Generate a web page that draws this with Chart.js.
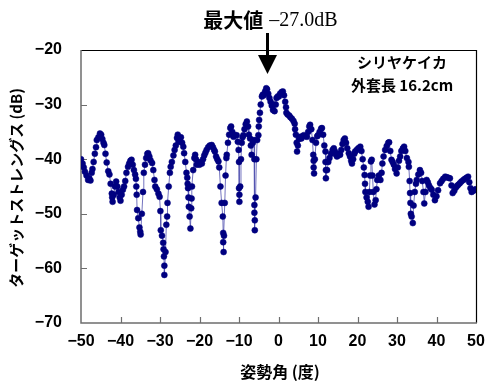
<!DOCTYPE html>
<html>
<head>
<meta charset="utf-8">
<script src="https://cdn.jsdelivr.net/npm/chart.js@4/dist/chart.umd.min.js"></script>
<style>
html,body{margin:0;padding:0;background:#fff;}
#wrap{width:486px;height:385px;position:relative;}
</style>
</head>
<body>
<div id="wrap"><canvas id="c" width="486" height="385"></canvas></div>
<script>
// 姿勢角 (deg)
const angles = [
-50.0,-49.6,-49.3,-49.0,-48.6,-48.2,-47.9,-47.6,-47.3,-47.1,-46.8,-46.5,-46.2,-46.0,-45.6,-45.2,-44.9,-44.6,-44.3,-44.1,
-43.8,-43.5,-43.1,-42.8,-42.5,-42.2,-42.1,-42.0,-41.7,-41.4,-41.1,-40.8,-40.5,-40.2,-40.0,-39.7,-39.4,-39.1,-38.8,-38.5,
-38.1,-37.8,-37.5,-37.2,-36.9,-36.6,-36.3,-36.1,-36.0,-35.9,-35.8,-35.5,-35.2,-35.0,-34.9,-34.6,-34.3,-34.1,-33.8,-33.5,
-33.2,-33.0,-32.7,-32.4,-32.0,-31.7,-31.4,-31.2,-30.8,-30.4,-30.1,-29.9,-29.8,-29.5,-29.2,-29.1,-29.0,-28.9,-28.9,-28.6,
-28.4,-28.2,-28.1,-27.8,-27.5,-27.3,-27.0,-26.6,-26.3,-26.0,-25.7,-25.5,-25.3,-25.0,-24.7,-24.4,-24.1,-23.9,-23.6,-23.3,
-23.1,-23.0,-22.9,-22.8,-22.7,-22.5,-22.3,-22.1,-22.0,-21.9,-21.6,-21.3,-21.1,-20.9,-20.7,-20.4,-20.0,-19.7,-19.4,-19.1,
-18.8,-18.5,-18.2,-17.8,-17.4,-16.9,-16.6,-16.3,-16.1,-15.8,-15.5,-15.2,-15.0,-14.7,-14.4,-14.1,-14.0,-14.0,-13.9,-13.8,
-13.6,-13.4,-13.2,-13.1,-12.8,-12.5,-12.2,-12.0,-11.7,-11.4,-11.0,-10.6,-10.3,-10.1,-10.0,-10.0,-9.9,-9.9,-9.7,-9.5,
-9.3,-9.1,-8.9,-8.6,-8.3,-8.0,-7.7,-7.5,-7.2,-7.0,-6.8,-6.5,-6.2,-6.1,-6.1,-6.1,-6.0,-6.0,-5.8,-5.6,
-5.4,-5.1,-5.0,-4.9,-4.7,-4.5,-4.2,-4.0,-3.7,-3.4,-3.1,-2.9,-2.6,-2.3,-2.0,-1.7,-1.4,-1.2,-1.0,-0.7,
-0.5,-0.2,0.1,0.4,0.8,1.1,1.4,1.7,1.9,2.0,2.3,2.7,3.0,3.4,3.8,4.1,4.2,4.4,4.6,4.7,
4.9,5.2,5.5,5.8,6.1,6.4,6.8,7.2,7.5,7.8,8.0,8.3,8.6,8.8,8.9,8.9,9.0,9.2,9.5,9.8,
10.0,10.4,10.8,11.0,11.3,11.6,11.9,11.9,12.0,12.0,12.3,12.6,12.9,13.3,13.7,14.0,14.3,14.6,14.8,15.1,
15.4,15.6,15.9,16.2,16.5,16.8,17.1,17.4,17.8,18.1,18.4,18.6,18.9,19.2,19.4,19.8,20.2,20.7,21.0,21.3,
21.6,21.8,21.9,22.0,22.3,22.6,22.8,23.0,23.2,23.4,23.6,23.8,24.0,24.3,24.6,24.8,25.0,25.4,25.8,26.1,
26.3,26.6,27.0,27.4,27.8,28.0,28.3,28.6,28.9,29.2,29.5,29.9,30.2,30.5,30.8,31.1,31.5,31.8,32.1,32.5,
32.9,33.0,33.2,33.3,33.4,33.5,33.7,34.0,34.2,34.5,34.8,35.0,35.4,35.8,36.1,36.4,36.7,36.9,37.2,37.5,
37.8,38.1,38.5,38.8,39.2,39.6,40.0,40.4,40.9,41.3,41.7,42.2,42.6,43.0,43.4,43.8,44.1,44.5,44.9,45.2,
45.5,45.9,46.3,46.8,47.2,47.6,48.0,48.3,48.6,48.9,49.3,49.7,50.0
];
// ターゲットストレングス (dB)
const targetStrength = [
-40.0,-40.8,-41.5,-42.3,-43.0,-43.8,-43.5,-43.9,-42.5,-41.8,-40.5,-39.0,-37.8,-36.5,-36.0,-35.3,-35.5,-36.3,-37.0,-37.4,
-39.0,-40.6,-42.2,-42.8,-44.5,-46.3,-47.0,-47.8,-46.5,-45.0,-44.1,-45.0,-46.0,-47.0,-47.6,-46.5,-45.6,-45.0,-44.0,-42.5,
-41.4,-40.8,-40.3,-40.1,-41.0,-42.0,-42.8,-43.6,-45.0,-46.5,-49.3,-50.8,-52.5,-53.3,-53.8,-50.0,-46.0,-42.5,-41.0,-39.8,
-39.0,-38.9,-39.5,-40.2,-40.7,-42.0,-43.8,-45.0,-45.5,-46.3,-46.9,-49.5,-53.0,-54.0,-55.3,-56.5,-57.8,-59.5,-61.2,-57.0,
-52.0,-50.5,-48.0,-45.0,-42.5,-41.4,-40.5,-39.3,-38.3,-37.5,-36.1,-35.5,-36.8,-36.2,-36.0,-37.0,-37.7,-38.9,-40.5,-42.5,
-43.4,-44.5,-45.3,-47.0,-48.7,-50.5,-52.7,-49.0,-47.2,-45.0,-42.0,-39.8,-39.2,-40.0,-41.0,-40.5,-41.0,-40.6,-40.8,-40.0,
-39.3,-38.8,-38.3,-37.8,-37.5,-37.4,-37.8,-38.3,-38.6,-39.5,-40.0,-40.4,-41.5,-45.0,-48.0,-50.5,-53.5,-55.2,-57.0,-54.0,
-48.0,-43.0,-39.8,-39.2,-37.0,-35.5,-34.3,-34.0,-35.0,-35.9,-35.6,-35.6,-36.8,-38.3,-40.5,-45.3,-46.5,-47.8,-45.0,-40.0,
-37.0,-36.0,-35.6,-34.5,-33.6,-33.1,-34.0,-35.5,-36.2,-37.5,-39.2,-37.0,-36.5,-40.0,-48.4,-49.8,-51.2,-53.0,-47.0,-40.0,
-36.5,-35.6,-34.0,-32.8,-31.5,-30.0,-28.5,-28.2,-28.3,-27.6,-27.0,-27.2,-28.0,-28.8,-29.5,-30.2,-31.0,-30.0,-31.2,-30.0,
-28.8,-28.5,-28.5,-28.0,-27.7,-27.6,-28.3,-29.5,-30.5,-31.5,-31.8,-32.0,-32.3,-32.6,-33.0,-33.5,-34.5,-35.5,-37.0,-38.6,
-37.5,-36.3,-35.9,-36.2,-35.8,-35.6,-35.8,-35.9,-35.0,-34.0,-33.7,-34.5,-36.5,-39.2,-40.3,-41.5,-42.6,-40.0,-37.0,-35.8,
-35.6,-35.0,-34.4,-34.3,-35.5,-37.5,-38.6,-40.5,-42.0,-43.5,-42.0,-40.5,-39.8,-39.0,-38.3,-38.0,-38.6,-39.2,-39.5,-39.3,
-39.0,-39.2,-38.3,-37.2,-36.5,-36.2,-37.0,-38.0,-38.9,-39.5,-40.3,-40.8,-40.0,-39.0,-38.6,-38.3,-38.0,-37.7,-38.5,-40.0,
-41.5,-42.9,-44.5,-46.0,-47.0,-47.8,-48.7,-46.0,-43.0,-40.4,-40.1,-43.0,-46.0,-48.3,-47.5,-45.5,-43.8,-43.0,-43.8,-42.5,
-40.8,-39.5,-38.3,-37.6,-37.0,-36.9,-38.5,-40.1,-40.5,-41.0,-41.8,-42.6,-41.5,-40.3,-39.5,-38.5,-38.0,-37.7,-38.5,-39.8,
-40.5,-41.4,-44.0,-46.2,-48.0,-50.0,-50.5,-51.7,-48.5,-46.0,-44.5,-43.8,-42.8,-42.0,-42.5,-44.0,-46.0,-48.1,-46.0,-43.8,
-44.2,-44.8,-45.3,-45.6,-46.5,-47.5,-46.8,-45.7,-44.4,-44.0,-43.6,-43.2,-43.3,-43.4,-43.5,-44.8,-46.2,-45.8,-45.2,-44.9,
-44.7,-44.4,-44.1,-43.8,-43.6,-43.4,-43.2,-44.2,-45.3,-46.0,-45.8,-45.6,-45.5
];
const xTicks = [-50,-40,-30,-20,-10,0,10,20,30,40,50];
const yTicks = [-70,-60,-50,-40,-30,-20];
const titleJa = '最大値';
const titleVal = '\u201327.0dB';
const peakAngle = -2.8;
const noteLines = ['シリヤケイカ','外套長 16.2cm'];
const xTitle = '姿勢角 (度)';
const yTitle = 'ターゲットストレングス (dB)';

const pts = angles.map((a,i)=>({x:a,y:targetStrength[i]}));
const numFont = '"Liberation Sans", Arial, sans-serif';
const jaFont = '"Noto Sans CJK JP", "Liberation Sans", sans-serif';
const fmt = v => (v<0 ? '\u2212'+Math.abs(v) : String(v));

const deco = {
  id:'deco',
  beforeDatasetsDraw(chart){
    const {ctx, chartArea:a, scales:{x,y}} = chart;
    ctx.save();
    ctx.strokeStyle='#000'; ctx.lineWidth=1.2;
    ctx.beginPath();
    ctx.moveTo(a.left, a.top+0.5); ctx.lineTo(a.right+0.5, a.top+0.5); ctx.lineTo(a.right+0.5, a.bottom);
    ctx.stroke();
    ctx.strokeStyle='#6e6e6e'; ctx.lineWidth=1.5;
    ctx.beginPath();
    ctx.moveTo(a.left, a.top); ctx.lineTo(a.left, a.bottom); ctx.lineTo(a.right+1, a.bottom);
    ctx.stroke();
    ctx.lineWidth=1.2;
    ctx.beginPath();
    xTicks.forEach(t=>{ if(t>-50&&t<50){const px=Math.round(x.getPixelForValue(t))+0.5; ctx.moveTo(px,a.bottom); ctx.lineTo(px,a.bottom-6);} });
    yTicks.forEach(t=>{ if(t>-70&&t<-20){const py=Math.round(y.getPixelForValue(t))+0.5; ctx.moveTo(a.left,py); ctx.lineTo(a.left+6,py);} });
    ctx.stroke();
    ctx.restore();
  },
  afterDraw(chart){
    const {ctx, scales:{x}} = chart;
    ctx.save();
    ctx.fillStyle='#000';
    ctx.textBaseline='middle';
    ctx.font='bold 20px '+jaFont;
    const w1=ctx.measureText(titleJa).width;
    ctx.font='20px "Liberation Serif", "Times New Roman", serif';
    const w2=ctx.measureText(titleVal).width;
    const gap=6;
    const total=w1+gap+w2;
    const cx=x.getPixelForValue(peakAngle)+3;
    let sx=cx-total/2;
    ctx.textAlign='left';
    ctx.font='bold 20px '+jaFont;
    ctx.fillText(titleJa, sx, 20);
    ctx.font='20px "Liberation Serif", "Times New Roman", serif';
    ctx.fillText(titleVal, sx+w1+gap, 21);
    const ax=Math.round(x.getPixelForValue(peakAngle))+0.5;
    ctx.fillRect(ax-1.5, 33, 3, 24);
    ctx.beginPath();
    ctx.moveTo(ax-9.5, 55); ctx.lineTo(ax+9.5, 55); ctx.lineTo(ax, 74); ctx.closePath();
    ctx.fill();
    ctx.textAlign='center';
    ctx.font='bold 15px '+jaFont;
    ctx.fillText(noteLines[0], 402, 62);
    ctx.fillText(noteLines[1], 402, 85);
    ctx.font='bold 16px '+jaFont;
    ctx.fillText(xTitle, 280, 372);
    ctx.translate(16, 188);
    ctx.rotate(-Math.PI/2);
    ctx.font='bold 15px '+jaFont;
    ctx.fillText(yTitle, 0, 0);
    ctx.restore();
  }
};

new Chart(document.getElementById('c'), {
  type:'scatter',
  data:{datasets:[{
    data:pts,
    showLine:true,
    borderColor:'rgba(80,80,175,0.8)',
    borderWidth:1,
    pointRadius:3,
    pointBackgroundColor:'#000080',
    pointBorderColor:'#000080',
    pointBorderWidth:0.5,
    tension:0
  }]},
  options:{
    responsive:false,
    animation:false,
    events:[],
    layout:{padding:{left:0,right:10,top:50,bottom:0}},
    plugins:{legend:{display:false},tooltip:{enabled:false}},
    scales:{
      x:{
        type:'linear', min:-50, max:50,
        afterBuildTicks(s){ s.ticks = xTicks.map(v=>({value:v})); },
        afterFit(s){ s.height = 62; s.paddingLeft = 0; s.paddingRight = 0; },
        grid:{display:false, drawTicks:false},
        border:{display:false},
        ticks:{padding:9, color:'#000', font:{family:numFont, size:16, weight:'bold'}, callback:v=>fmt(v), maxRotation:0, autoSkip:false}
      },
      y:{
        type:'linear', min:-70, max:-20,
        afterBuildTicks(s){ s.ticks = yTicks.map(v=>({value:v})); },
        afterFit(s){ s.width = 81; s.paddingTop = 0; s.paddingBottom = 0; },
        grid:{display:false, drawTicks:false},
        border:{display:false},
        ticks:{padding:19, color:'#000', font:{family:numFont, size:16, weight:'bold'}, callback:v=>fmt(v), autoSkip:false}
      }
    }
  },
  plugins:[deco]
});
</script>
</body>
</html>
